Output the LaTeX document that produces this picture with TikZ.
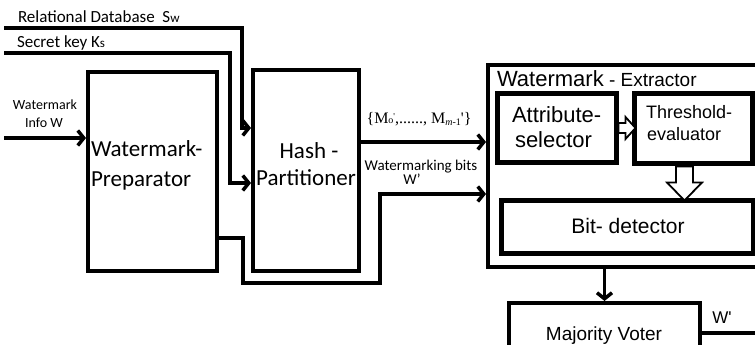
\documentclass[tikz,border=0pt]{standalone}
\usepackage{fontspec}
\setmainfont{Carlito}
\newfontfamily\arialf{Liberation Sans}
\newfontfamily\serff{Liberation Serif}
\usetikzlibrary{arrows.meta,calc}
\newcommand{\fs}[1]{\fontsize{#1}{#1}\selectfont}
\begin{document}
\begin{tikzpicture}[x=1pt,y=-1pt,
  conn/.style={line width=3.5pt},
  arr/.style={line width=3.5pt,-{Straight Barb[length=6pt,width=15pt]}},
  box/.style={draw,line width=4pt,inner sep=0pt},
  thickbox/.style={draw,line width=5pt,inner sep=0pt},
  hollow/.style={draw,line width=1.8pt,fill=white,line join=miter},
  txt/.style={inner sep=0pt,outer sep=0pt}]
\useasboundingbox (0,0) rectangle (755,345);
% boxes
\node[box,minimum width=129pt,minimum height=199pt] (prep) at (152.5,171.5) {};
\node[box,minimum width=106pt,minimum height=201pt] (hash) at (306,170.5) {};
\node[box,minimum width=287pt,minimum height=202pt] (extr) at (631.5,166) {};
\node[thickbox,minimum width=119pt,minimum height=69pt] (attr) at (556.5,127.5) {};
\node[thickbox,minimum width=118pt,minimum height=70pt] (thr) at (693,128) {};
\node[thickbox,minimum width=252pt,minimum height=53pt] (bit) at (627,226.5) {};
\node[box,minimum width=191pt,minimum height=57pt] (maj) at (604.5,331.5) {};
% texts
\node[txt,anchor=base west] (tdb) at (18,23) {\fs{17}Relational Database\ \ S{\fs{13}w}};
\node[txt,anchor=base west] (tkey) at (17,48) {\fs{17}Secret key K{\fs{13}s}};
\node[txt,anchor=base] (tinfo1) at (45,109) {\fs{14}Watermark};
\node[txt,anchor=base] (tinfo2) at (44,127) {\fs{14}Info W};
\node[txt,anchor=base west] (tprep1) at (91,156) {\fs{23}Watermark-};
\node[txt,anchor=base west] (tprep2) at (91,186) {\fs{23}Preparator};
\node[txt,anchor=base] (thash1) at (309,158) {\fs{23}Hash -};
\node[txt,anchor=base] (thash2) at (306,185) {\fs{23}Partitioner};
\node[txt,anchor=base] (tset) at (419,123) {\serff\fs{16}\{M{\fs{10}o}\raisebox{4pt}{\fs{9}'},......, M{\fs{10}\raisebox{-2pt}{\textit{m}-1}}'\}};
\node[txt,anchor=base] (tbits) at (421,170) {\fs{15}Watermarking bits};
\node[txt,anchor=base] (tbits2) at (412,184) {\fs{15}W'};
\node[txt,anchor=base west] (textr) at (497,87) {\arialf\fs{22}Watermark\fs{19} - Extractor};
\node[txt,anchor=base west] (tattr1) at (512,122) {\arialf\fs{22}Attribute-};
\node[txt,anchor=base west] (tattr2) at (515,147) {\arialf\fs{22}selector};
\node[txt,anchor=base west] (tthr1) at (646,118) {\arialf\fs{18}Threshold-};
\node[txt,anchor=base west] (tthr2) at (647,140) {\arialf\fs{18}evaluator};
\node[txt,anchor=base] (tbit) at (628,233) {\arialf\fs{21}Bit- detector};
\node[txt,anchor=base] (tmaj) at (604,340) {\arialf\fs{19}Majority Voter};
\node[txt,anchor=base] (tout) at (722,323) {\arialf\fs{17}W'};
% free ends
\coordinate (dbin) at (4,28);
\coordinate (keyin) at (4,53);
\coordinate (infoin) at (4,138);
\coordinate (outend) at (758,333);
% connectors
\draw[arr] (dbin) -| (242,128) -- (hash.west |- 0,128);
\draw[arr] (keyin) -| (230,183) -- (hash.west |- 0,183);
\draw[arr] (infoin) -- (prep.west |- 0,138);
\draw[arr] (prep.east |- 0,238) -- (243,238) -- (243,283) -- (380,283) -- (380,194) -- (extr.west |- 0,194);
\draw[arr] (hash.east |- 0,142) -- (extr.west |- 0,142);
\draw[arr] (maj.north |- extr.south) -- (maj.north);
\draw[conn] (maj.east |- 0,333) -- (outend);
% hollow block arrows
\draw[hollow] ($(attr.east)+(0,-4.5)$) -- ++(7,0) -- ++(0,-6) -- ++(10,11) -- ++(-10,11) -- ++(0,-6) -- ++(-7,0) -- cycle;
\draw[hollow] ($(thr.south)+(-17,1)$) -- ++(17,0) -- ++(0,16) -- ++(9,0) -- ++(-17.5,18) -- ++(-17.5,-18) -- ++(9,0) -- cycle;
\end{tikzpicture}
\end{document}
